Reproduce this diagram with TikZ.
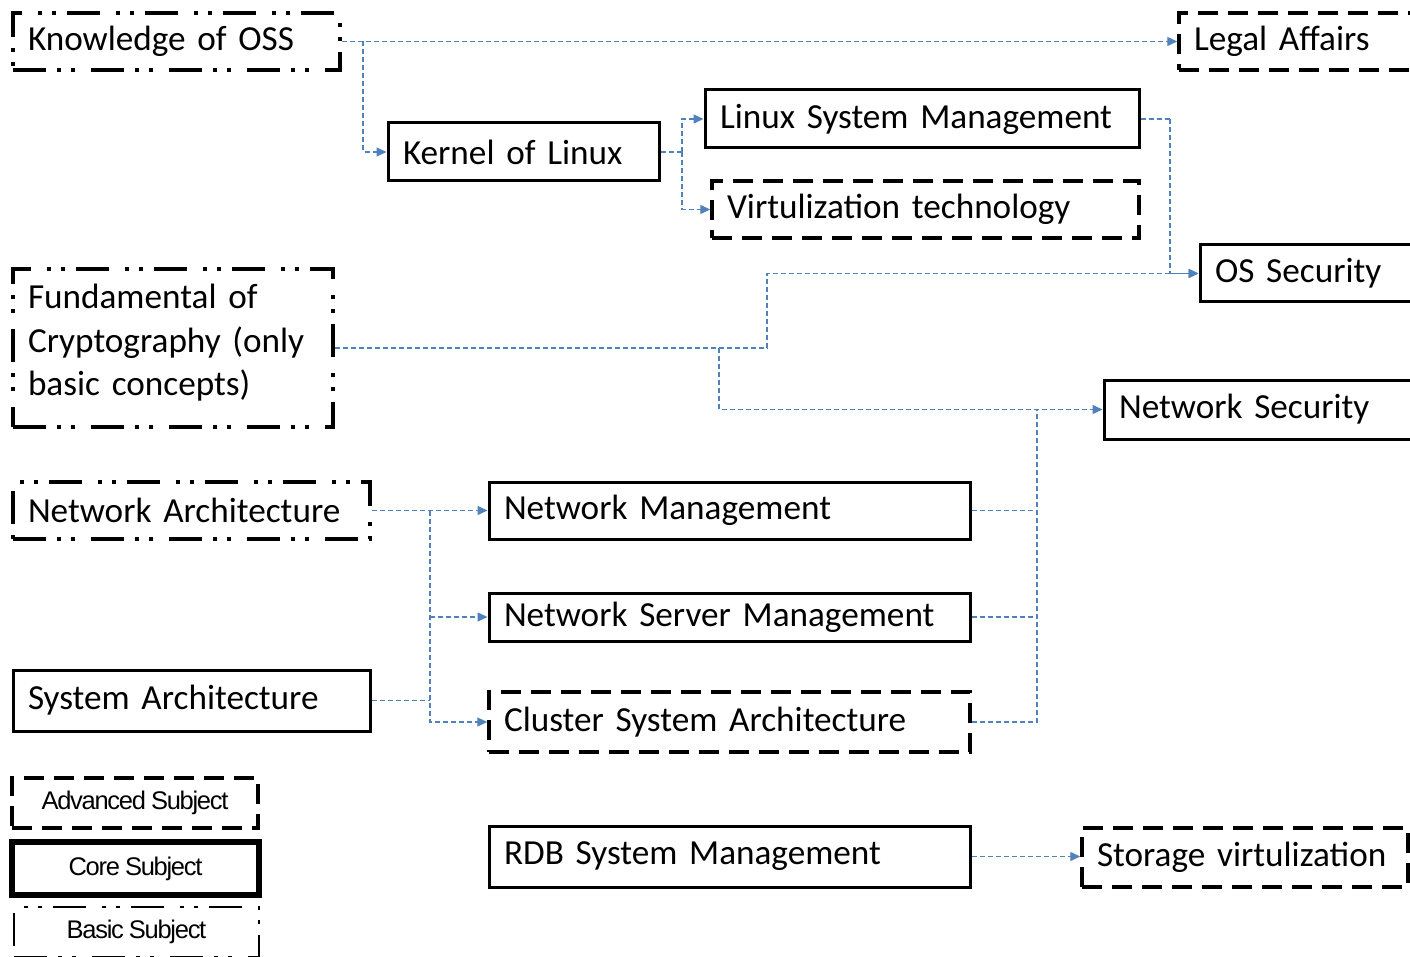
\documentclass[tikz,border=0pt]{standalone}
\usepackage{fontspec}
\setmainfont{Carlito}
\newfontfamily\legendfont[LetterSpace=-5]{Liberation Sans}
\usetikzlibrary{arrows.meta}
\definecolor{conncol}{RGB}{79,129,189}
\newcommand\myMainFnt{\fontsize{35.2}{43.5}\selectfont\spaceskip 5pt plus 1pt minus 1pt\relax}
\newcommand\myLegFnt{\legendfont\fontsize{25.5}{28}\selectfont\spaceskip 5pt\relax}
\begin{document}
\begin{tikzpicture}[x=1pt,y=-1pt,
 every node/.style={font=\myMainFnt},
 box/.style={draw=black, line width=3pt, inner xsep=15pt, inner ysep=0pt, align=left, anchor=center},
 core/.style={box},
 adv/.style={box, line width=3.5pt, dash pattern=on 20pt off 10pt},
 basic/.style={box, line width=3.5pt, dash pattern=on 33pt off 11pt on 4pt off 10pt on 4pt off 16pt},
 conn/.style={draw=conncol, line width=1.4pt, dash pattern=on 5pt off 3pt},
 arr/.style={conn, -{Triangle[length=10pt,width=9pt]}},
 leg/.style={font=\myLegFnt, inner sep=0pt, align=center, anchor=center},
]
\useasboundingbox (0,0) rectangle (1410,957);
\clip (0,0) rectangle (1410,957);

% boxes
\node[basic, text width=297pt, minimum height=57pt] (kos) at (176.5,41.5) {\mbox{Knowledge of OSS}};
\node[adv, text width=216pt, minimum height=57pt] (legal) at (1302,41.5) {\mbox{Legal Affairs}};
\node[core, text width=241pt, minimum height=58pt] (kernel) at (523.5,152) {\mbox{Kernel of Linux}};
\node[core, text width=404pt, minimum height=58pt] (lsm) at (922,119) {\mbox{Linux System Management}};
\node[adv, text width=397pt, minimum height=57pt] (virt) at (925.5,209.5) {\mbox{Virtulization technology}};
\node[core, text width=200pt, minimum height=57pt] (oss) at (1315,273.5) {\mbox{OS Security}};
\node[basic, text width=290pt, minimum height=158pt] (crypto) at (173,348) {Fundamental of\\Cryptography (only\\basic concepts)\vspace{10pt}};
\node[core, text width=286pt, minimum height=59pt] (netsec) at (1262,409.5) {\mbox{Network Security}};
\node[basic, text width=327pt, minimum height=57pt] (netarch) at (191.5,510.5) {\mbox{Network Architecture}};
\node[core, text width=451pt, minimum height=57pt] (netmgmt) at (729.5,510.5) {\mbox{Network Management}};
\node[core, text width=451pt, minimum height=48pt] (nsm) at (729.5,617) {\raisebox{-6pt}{\mbox{Network Server Management}}};
\node[core, text width=327pt, minimum height=61pt] (sysarch) at (191.5,700.5) {\mbox{System Architecture}};
\node[adv, text width=451pt, minimum height=60pt] (cluster) at (729.5,722) {\mbox{Cluster System Architecture}};
\node[core, text width=451pt, minimum height=61pt] (rdb) at (729.5,856.5) {\mbox{RDB System Management}};
\node[adv, text width=296pt, minimum height=59pt] (storage) at (1245,857.5) {\mbox{Storage virtulization}};

% legend
\node[adv, leg, line width=4pt, minimum width=246pt, minimum height=50pt] (ladv) at (135,803) {Advanced Subject};
\node[core, leg, line width=6pt, minimum width=247pt, minimum height=53pt] (lcore) at (135.5,868.5) {Core Subject};
\node[basic, leg, line width=2.5pt, minimum width=245pt, minimum height=50pt] (lbasic) at (136.5,932) {Basic Subject};

% connectors
\coordinate (j1) at (363,41.5);
\coordinate (j2) at (682,152);
\coordinate (j3) at (1170,119);
\coordinate (c1) at (719,348);
\coordinate (c2) at (767,348);
\coordinate (busR) at (1037,722);
\coordinate (busL) at (430,510.5);

\draw[arr] (kos.east) -- (legal.west);
\draw[arr] (j1) |- (kernel.west);
\draw[conn] (kernel.east) -- (j2);
\draw[arr] (j2) |- (lsm.west);
\draw[arr] (j2) |- (virt.west);
\draw[conn] (lsm.east) -- (j3);
\draw[arr] (j3) |- (oss.west);
\draw[conn] (crypto.east) -- (c2);
\draw[arr] (c2) |- (oss.west);
\draw[arr] (c1) |- (netsec.west);
\draw[conn] (netmgmt.east) -- (netmgmt.east -| busR);
\draw[conn] (nsm.east) -- (nsm.east -| busR);
\draw[conn] (cluster.east) -| (netsec.west -| busR);
\draw[arr] (netarch.east) -- (netmgmt.west);
\draw[arr] (busL) |- (cluster.west);
\draw[arr] (nsm.west -| busL) -- (nsm.west);
\draw[conn] (sysarch.east) -- (sysarch.east -| busL);
\draw[arr] (rdb.east) -- (rdb.east -| storage.west);
\end{tikzpicture}
\end{document}
